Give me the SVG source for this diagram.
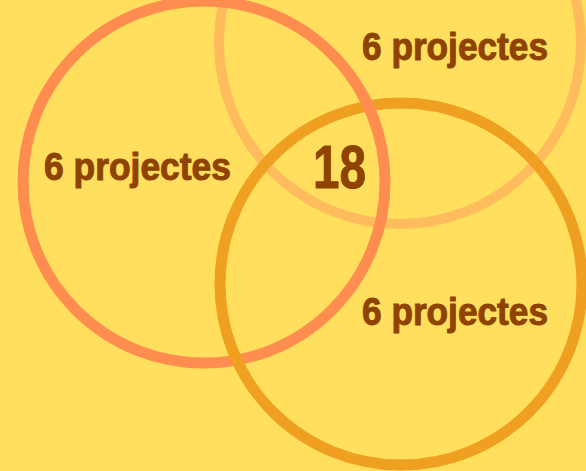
<svg xmlns="http://www.w3.org/2000/svg" width="586" height="471" viewBox="0 0 586 471">
<style>
.ring{fill:none}
.lbl{font-family:"Liberation Sans",Arial,sans-serif;font-weight:bold;fill:#8E4300;stroke:#8E4300;stroke-width:1;stroke-linejoin:round}
</style>
<rect width="586" height="471" fill="#FFDF5D"/>
<g id="circle-top"><circle class="ring" cx="400" cy="43" r="181" stroke="#FFBC5D" stroke-width="10"/></g>
<g id="circle-left"><circle class="ring" cx="204" cy="182" r="181" stroke="#FF8D50" stroke-width="11"/></g>
<g id="circle-bottom"><circle class="ring" cx="401" cy="284" r="181" stroke="#F0A020" stroke-width="11"/></g>
<g id="overlap-fix"><path class="ring" d="M 361 92 A 181 181 0 0 1 377.4 130" stroke="#FF8D50" stroke-width="11"/></g>
<g id="labels">
<text class="lbl" x="44" y="180" font-size="38" textLength="187" lengthAdjust="spacingAndGlyphs">6 projectes</text>
<text class="lbl" x="362" y="60" font-size="38" textLength="186" lengthAdjust="spacingAndGlyphs">6 projectes</text>
<text class="lbl" x="362" y="325" font-size="38" textLength="186" lengthAdjust="spacingAndGlyphs">6 projectes</text>
<text class="lbl" x="313" y="188" font-size="62" textLength="53" lengthAdjust="spacingAndGlyphs">18</text>
</g>
</svg>
